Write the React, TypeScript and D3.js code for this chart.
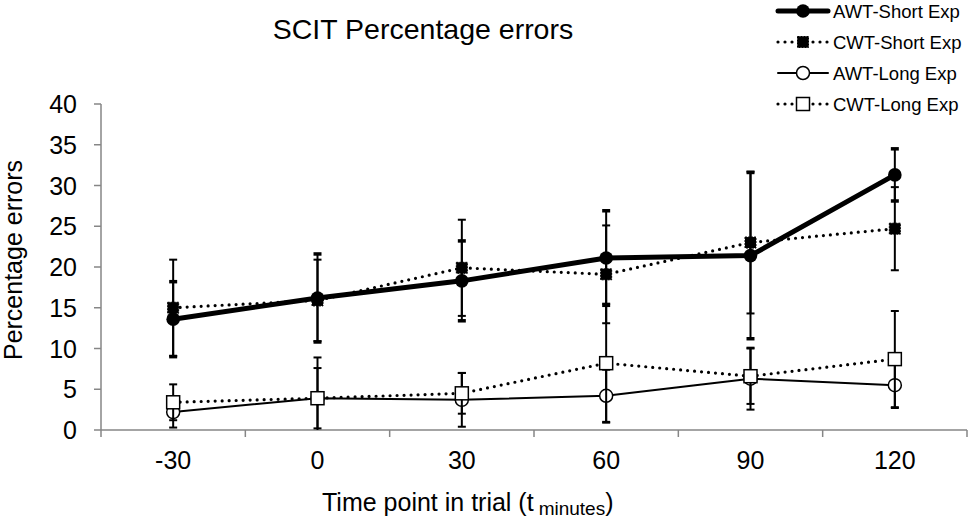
import React from "react";
import * as d3 from "d3";

const W = 972;
const H = 520;

const timePoints = ["-30", "0", "30", "60", "90", "120"];
const yTicks = [0, 5, 10, 15, 20, 25, 30, 35, 40];

const awtShort = [13.6, 16.2, 18.3, 21.1, 21.4, 31.3];
const awtShortErr = [4.6, 5.4, 4.9, 5.8, 10.2, 3.2];
const cwtShort = [15.0, 15.9, 19.9, 19.1, 23.0, 24.7];
const cwtShortErr = [5.9, 5.0, 5.9, 6.0, 8.7, 5.1];
const awtLong = [2.2, 3.9, 3.7, 4.2, 6.3, 5.5];
const awtLongErr = [1.9, 5.0, 3.3, 3.2, 3.8, 2.8];
const cwtLong = [3.4, 3.9, 4.5, 8.2, 6.6, 8.7];
const cwtLongErr = [2.2, 3.7, 2.5, 7.3, 3.4, 5.9];

const seriesNames = ["AWT-Short Exp", "CWT-Short Exp", "AWT-Long Exp", "CWT-Long Exp"];

type Marker = "dot" | "fsquare" | "ring" | "osquare";

interface Series {
  name: string;
  values: number[];
  errs: number[];
  width: number;
  dotted: boolean;
  marker: Marker;
  capWidth: number;
}

const series: Series[] = [
  { name: seriesNames[0], values: awtShort, errs: awtShortErr, width: 5, dotted: false, marker: "dot", capWidth: 3.5 },
  { name: seriesNames[1], values: cwtShort, errs: cwtShortErr, width: 3.2, dotted: true, marker: "fsquare", capWidth: 2 },
  { name: seriesNames[2], values: awtLong, errs: awtLongErr, width: 2, dotted: false, marker: "ring", capWidth: 2 },
  { name: seriesNames[3], values: cwtLong, errs: cwtLongErr, width: 3.2, dotted: true, marker: "osquare", capWidth: 2 },
];

const FONT = "Liberation Sans, Arial, sans-serif";
const AXIS = "#868686";

function MarkerShape({ kind, x, y }: { kind: Marker; x: number; y: number }) {
  if (kind === "dot") return <circle cx={x} cy={y} r={6.8} fill="#000" />;
  if (kind === "ring") return <circle cx={x} cy={y} r={6.5} fill="#fff" stroke="#000" strokeWidth={1.5} />;
  if (kind === "fsquare")
    return <rect x={x - 5.5} y={y - 5.5} width={11} height={11} fill="#000" stroke="#000" strokeWidth={1} strokeDasharray="2 1" />;
  return <rect x={x - 6.5} y={y - 6.5} width={13} height={13} fill="#fff" stroke="#000" strokeWidth={1.5} />;
}

export default function App() {
  const x = d3.scaleBand<string>().domain(timePoints).range([101, 967]).padding(0);
  const y = d3.scaleLinear().domain([0, 40]).range([430, 104]);
  const cx = (t: string) => (x(t) as number) + x.bandwidth() / 2;

  const line = d3
    .line<number>()
    .x((_, i) => cx(timePoints[i]))
    .y((v) => y(v));

  const boundaries = [...timePoints.map((t) => x(t) as number), 967];

  const legendX = 778;
  const legendRows = [11, 42, 73, 104];

  return (
    <svg width={W} height={H} style={{ position: "absolute", left: 0, top: 0, background: "#fff" }} fontFamily={FONT}>
      <rect width={W} height={H} fill="#fff" />
      <text x={423} y={39} textAnchor="middle" fontSize={28.5} fill="#000">
        SCIT Percentage errors
      </text>

      {/* y axis */}
      <line x1={101} x2={101} y1={y(40)} y2={y(0)} stroke={AXIS} strokeWidth={1.5} />
      {yTicks.map((t) => (
        <g key={t}>
          <line x1={94} x2={101} y1={y(t)} y2={y(t)} stroke={AXIS} strokeWidth={1.5} />
          <text x={77} y={y(t)} dy="0.36em" textAnchor="end" fontSize={25} fill="#000">
            {t}
          </text>
        </g>
      ))}
      <text transform={`translate(22,260) rotate(-90)`} textAnchor="middle" fontSize={25} fill="#000">
        Percentage errors
      </text>

      {/* x axis */}
      <line x1={101} x2={967} y1={y(0)} y2={y(0)} stroke={AXIS} strokeWidth={1.5} />
      {boundaries.map((b, i) => (
        <line key={i} x1={b} x2={b} y1={y(0)} y2={y(0) + 7} stroke={AXIS} strokeWidth={1.5} />
      ))}
      {timePoints.map((t) => (
        <text key={t} x={cx(t)} y={469} textAnchor="middle" fontSize={25} fill="#000">
          {t}
        </text>
      ))}
      <text x={322} y={511} fontSize={25} fill="#000">
        Time point in trial (t
        <tspan fontSize={19} dx={5} dy={4}>minutes</tspan>
        <tspan dy={-4}>)</tspan>
      </text>

      {/* series */}
      {series.map((s) => (
        <g key={s.name}>
          {s.values.map((v, i) => {
            const px = cx(timePoints[i]);
            const hi = v + s.errs[i];
            const lo = v - s.errs[i];
            const loC = Math.max(lo, 0);
            return (
              <g key={i} stroke="#000">
                <line x1={px} x2={px} y1={y(hi)} y2={y(loC)} strokeWidth={2} />
                <line x1={px - 4} x2={px + 4} y1={y(hi)} y2={y(hi)} strokeWidth={s.capWidth} />
                {lo >= 0 && <line x1={px - 4} x2={px + 4} y1={y(lo)} y2={y(lo)} strokeWidth={s.capWidth} />}
              </g>
            );
          })}
          <path
            d={line(s.values) || ""}
            fill="none"
            stroke="#000"
            strokeWidth={s.width}
            strokeLinecap="round"
            strokeLinejoin="round"
            strokeDasharray={s.dotted ? "0 7" : undefined}
          />
          {s.values.map((v, i) => (
            <MarkerShape key={i} kind={s.marker} x={cx(timePoints[i])} y={y(v)} />
          ))}
        </g>
      ))}

      {/* legend */}
      {series.map((s, i) => (
        <g key={s.name}>
          <line
            x1={legendX}
            x2={legendX + 50}
            y1={legendRows[i]}
            y2={legendRows[i]}
            stroke="#000"
            strokeWidth={s.width}
            strokeLinecap="round"
            strokeDasharray={s.dotted ? "0 7" : undefined}
          />
          <MarkerShape kind={s.marker} x={legendX + 25} y={legendRows[i]} />
          <text x={legendX + 55} y={legendRows[i]} dy="0.36em" fontSize={18.5} fill="#000">
            {s.name}
          </text>
        </g>
      ))}
    </svg>
  );
}
